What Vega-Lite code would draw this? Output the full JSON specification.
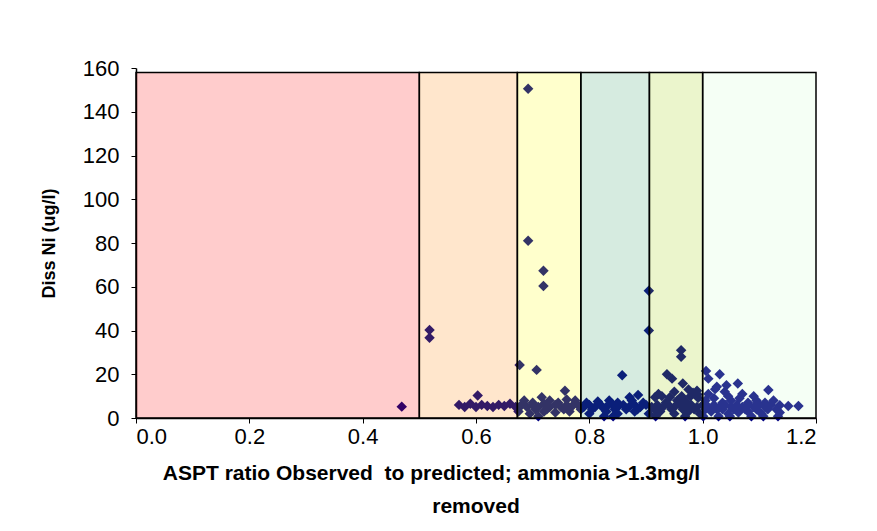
{
  "$schema": "https://vega.github.io/schema/vega-lite/v6.json",
  "width": 680,
  "height": 350,
  "autosize": {"type": "none"},
  "padding": {"left": 136, "top": 68, "right": 61, "bottom": 113},
  "background": "white",
  "title": {
    "text": "removed", "orient": "bottom", "anchor": "middle", "offset": 13,
    "font": "Liberation Sans", "fontSize": 21, "fontWeight": "bold", "color": "black"
  },
  "config": {
    "view": {"stroke": null},
    "font": "Liberation Sans",
    "axis": {
      "domainColor": "black", "domainWidth": 1.5, "tickColor": "black", "tickWidth": 1, "tickSize": 5,
      "grid": false, "labelFont": "Liberation Sans", "labelFontSize": 22, "labelColor": "black",
      "titleFont": "Liberation Sans", "titleFontSize": 21, "titleFontWeight": "bold", "titleColor": "black"
    }
  },
  "datasets": {
    "bands": [
      {"band": "b1", "lo": 0.0, "hi": 0.5, "bottom": 0, "top": 158},
      {"band": "b2", "lo": 0.5, "hi": 0.673, "bottom": 0, "top": 158},
      {"band": "b3", "lo": 0.673, "hi": 0.785, "bottom": 0, "top": 158},
      {"band": "b4", "lo": 0.785, "hi": 0.906, "bottom": 0, "top": 158},
      {"band": "b5", "lo": 0.906, "hi": 1.0, "bottom": 0, "top": 158},
      {"band": "b6", "lo": 1.0, "hi": 1.2, "bottom": 0, "top": 158}
    ],
    "points": [
      {"ratio": 0.469, "ni": 5.2},
      {"ratio": 0.518, "ni": 40.2}, {"ratio": 0.518, "ni": 36.7},
      {"ratio": 0.692, "ni": 150.5}, {"ratio": 0.692, "ni": 81},
      {"ratio": 0.719, "ni": 67.3}, {"ratio": 0.719, "ni": 60.3},
      {"ratio": 0.905, "ni": 58.2}, {"ratio": 0.905, "ni": 40},
      {"ratio": 0.677, "ni": 24.2}, {"ratio": 0.707, "ni": 22},
      {"ratio": 0.962, "ni": 31}, {"ratio": 0.962, "ni": 28},
      {"ratio": 0.858, "ni": 19.5}, {"ratio": 0.937, "ni": 20}, {"ratio": 0.946, "ni": 18},
      {"ratio": 0.965, "ni": 15.8}, {"ratio": 1.006, "ni": 21.5}, {"ratio": 1.010, "ni": 18},
      {"ratio": 1.030, "ni": 20}, {"ratio": 1.022, "ni": 13.2}, {"ratio": 1.042, "ni": 15},
      {"ratio": 1.062, "ni": 15.8}, {"ratio": 1.039, "ni": 12}, {"ratio": 1.116, "ni": 12.8},
      {"ratio": 0.603, "ni": 10.3}, {"ratio": 0.757, "ni": 12.5}, {"ratio": 0.716, "ni": 9.5},
      {"ratio": 0.886, "ni": 10.5}, {"ratio": 0.871, "ni": 9.5}, {"ratio": 0.922, "ni": 11},
      {"ratio": 0.983, "ni": 11.5}, {"ratio": 0.991, "ni": 10.8}, {"ratio": 1.025, "ni": 14.3},
      {"ratio": 0.916, "ni": 9.5}, {"ratio": 0.928, "ni": 10}, {"ratio": 0.942, "ni": 9.5},
      {"ratio": 0.963, "ni": 10}, {"ratio": 0.978, "ni": 9.8}, {"ratio": 0.992, "ni": 9.2},
      {"ratio": 1.01, "ni": 11}, {"ratio": 1.045, "ni": 10}, {"ratio": 1.07, "ni": 11}, {"ratio": 1.09, "ni": 10},
      {"ratio": 0.95, "ni": 12}, {"ratio": 0.975, "ni": 13}, {"ratio": 0.99, "ni": 12.5},
      {"ratio": 0.57, "ni": 6}, {"ratio": 0.58, "ni": 5}, {"ratio": 0.59, "ni": 6.5}, {"ratio": 0.60, "ni": 5},
      {"ratio": 0.61, "ni": 6}, {"ratio": 0.62, "ni": 5.5}, {"ratio": 0.63, "ni": 5}, {"ratio": 0.64, "ni": 6},
      {"ratio": 0.65, "ni": 5.5}, {"ratio": 0.66, "ni": 6.5}, {"ratio": 0.67, "ni": 5}, {"ratio": 0.68, "ni": 6},
      {"ratio": 0.69, "ni": 5}, {"ratio": 0.70, "ni": 6}, {"ratio": 0.71, "ni": 5}, {"ratio": 0.72, "ni": 6.5},
      {"ratio": 0.73, "ni": 5}, {"ratio": 0.74, "ni": 6}, {"ratio": 0.75, "ni": 5}, {"ratio": 0.76, "ni": 6},
      {"ratio": 0.77, "ni": 5.5}, {"ratio": 0.78, "ni": 6}, {"ratio": 0.79, "ni": 5}, {"ratio": 0.80, "ni": 6},
      {"ratio": 0.81, "ni": 5}, {"ratio": 0.82, "ni": 6}, {"ratio": 0.83, "ni": 5}, {"ratio": 0.84, "ni": 6.5},
      {"ratio": 0.85, "ni": 5}, {"ratio": 0.86, "ni": 6}, {"ratio": 0.87, "ni": 5}, {"ratio": 0.88, "ni": 6},
      {"ratio": 0.89, "ni": 5}, {"ratio": 0.90, "ni": 6}, {"ratio": 0.91, "ni": 5}, {"ratio": 0.92, "ni": 6},
      {"ratio": 0.93, "ni": 5}, {"ratio": 0.94, "ni": 6}, {"ratio": 0.95, "ni": 5}, {"ratio": 0.96, "ni": 6},
      {"ratio": 0.97, "ni": 5}, {"ratio": 0.98, "ni": 6}, {"ratio": 0.99, "ni": 5}, {"ratio": 1.00, "ni": 6},
      {"ratio": 1.01, "ni": 5}, {"ratio": 1.02, "ni": 6}, {"ratio": 1.03, "ni": 5}, {"ratio": 1.04, "ni": 6},
      {"ratio": 1.05, "ni": 5}, {"ratio": 1.06, "ni": 6}, {"ratio": 1.07, "ni": 5}, {"ratio": 1.08, "ni": 6},
      {"ratio": 1.09, "ni": 5}, {"ratio": 1.10, "ni": 6}, {"ratio": 1.11, "ni": 5}, {"ratio": 1.12, "ni": 6},
      {"ratio": 1.136, "ni": 5.8}, {"ratio": 1.151, "ni": 5.5}, {"ratio": 1.169, "ni": 5.5},
      {"ratio": 0.685, "ni": 8}, {"ratio": 0.70, "ni": 7}, {"ratio": 0.73, "ni": 8}, {"ratio": 0.745, "ni": 7},
      {"ratio": 0.76, "ni": 8.5}, {"ratio": 0.775, "ni": 8}, {"ratio": 0.795, "ni": 7}, {"ratio": 0.815, "ni": 7.5},
      {"ratio": 0.835, "ni": 8}, {"ratio": 0.85, "ni": 7}, {"ratio": 0.875, "ni": 8}, {"ratio": 0.895, "ni": 7},
      {"ratio": 0.935, "ni": 7}, {"ratio": 0.955, "ni": 8}, {"ratio": 0.97, "ni": 7.5}, {"ratio": 1.005, "ni": 8},
      {"ratio": 1.02, "ni": 9}, {"ratio": 1.035, "ni": 7}, {"ratio": 1.05, "ni": 8}, {"ratio": 1.065, "ni": 9},
      {"ratio": 1.08, "ni": 7}, {"ratio": 1.095, "ni": 8}, {"ratio": 1.11, "ni": 7}, {"ratio": 1.125, "ni": 8},
      {"ratio": 0.675, "ni": 4.5}, {"ratio": 0.705, "ni": 4}, {"ratio": 0.725, "ni": 4}, {"ratio": 0.755, "ni": 4},
      {"ratio": 0.785, "ni": 4}, {"ratio": 0.805, "ni": 4}, {"ratio": 0.825, "ni": 4.5}, {"ratio": 0.845, "ni": 4},
      {"ratio": 0.865, "ni": 4}, {"ratio": 0.885, "ni": 4}, {"ratio": 0.915, "ni": 4}, {"ratio": 0.945, "ni": 4},
      {"ratio": 0.965, "ni": 4}, {"ratio": 0.985, "ni": 4}, {"ratio": 1.005, "ni": 4}, {"ratio": 1.025, "ni": 4},
      {"ratio": 1.035, "ni": 4}, {"ratio": 1.055, "ni": 4}, {"ratio": 1.075, "ni": 4}, {"ratio": 1.095, "ni": 4},
      {"ratio": 1.115, "ni": 4}, {"ratio": 1.13, "ni": 4},
      {"ratio": 0.675, "ni": 3}, {"ratio": 0.695, "ni": 2}, {"ratio": 0.72, "ni": 3}, {"ratio": 0.74, "ni": 2.5},
      {"ratio": 0.765, "ni": 3}, {"ratio": 0.80, "ni": 2}, {"ratio": 0.83, "ni": 3}, {"ratio": 0.85, "ni": 2},
      {"ratio": 0.88, "ni": 3}, {"ratio": 0.905, "ni": 2}, {"ratio": 0.925, "ni": 3}, {"ratio": 0.95, "ni": 2},
      {"ratio": 0.975, "ni": 3}, {"ratio": 0.995, "ni": 2}, {"ratio": 1.015, "ni": 3}, {"ratio": 1.045, "ni": 2},
      {"ratio": 1.063, "ni": 2.5}, {"ratio": 1.08, "ni": 3}, {"ratio": 1.104, "ni": 2}, {"ratio": 1.136, "ni": 2.5},
      {"ratio": 0.71, "ni": 0.8}, {"ratio": 0.826, "ni": 0.8}, {"ratio": 0.842, "ni": 0.8}, {"ratio": 0.917, "ni": 0.8},
      {"ratio": 0.969, "ni": 0.8}, {"ratio": 1.001, "ni": 0.8}, {"ratio": 1.028, "ni": 0.8}, {"ratio": 1.048, "ni": 0.8},
      {"ratio": 1.086, "ni": 0.8}, {"ratio": 1.107, "ni": 0.8}, {"ratio": 1.133, "ni": 0.8}
    ]
  },
  "layer": [
    {
      "data": {"name": "points"},
      "mark": {"type": "point", "shape": "diamond", "filled": true, "size": 110, "color": "#000080", "opacity": 1},
      "encoding": {
        "x": {
          "field": "ratio", "type": "quantitative",
          "scale": {"domain": [0, 1.2], "nice": false, "zero": false},
          "axis": {
            "values": [0, 0.2, 0.4, 0.6, 0.8, 1.0, 1.2], "format": ".1f", "labelPadding": 3,
            "title": "ASPT ratio Observed \u00a0to predicted; ammonia >1.3mg/l",
            "titleX": 295, "titleAnchor": "middle", "titleAlign": "center", "titlePadding": 15
          }
        },
        "y": {
          "field": "ni", "type": "quantitative",
          "scale": {"domain": [0, 160], "nice": false},
          "axis": {
            "values": [0, 20, 40, 60, 80, 100, 120, 140, 160], "labelPadding": 12,
            "title": "Diss Ni (ug/l)", "titleFontSize": 18, "titlePadding": 24
          }
        }
      }
    },
    {
      "data": {"name": "bands"},
      "mark": {"type": "rect", "fillOpacity": 0.2, "stroke": "black", "strokeWidth": 1.5, "strokeOpacity": 1},
      "encoding": {
        "x": {"field": "lo", "type": "quantitative"},
        "x2": {"field": "hi"},
        "y": {"field": "bottom", "type": "quantitative"},
        "y2": {"field": "top"},
        "fill": {
          "field": "band", "type": "nominal", "legend": null,
          "scale": {"domain": ["b1", "b2", "b3", "b4", "b5", "b6"], "range": ["#FF0000", "#FF8000", "#FFFF00", "#339966", "#99CC00", "#CCFFCC"]}
        }
      }
    }
  ]
}
